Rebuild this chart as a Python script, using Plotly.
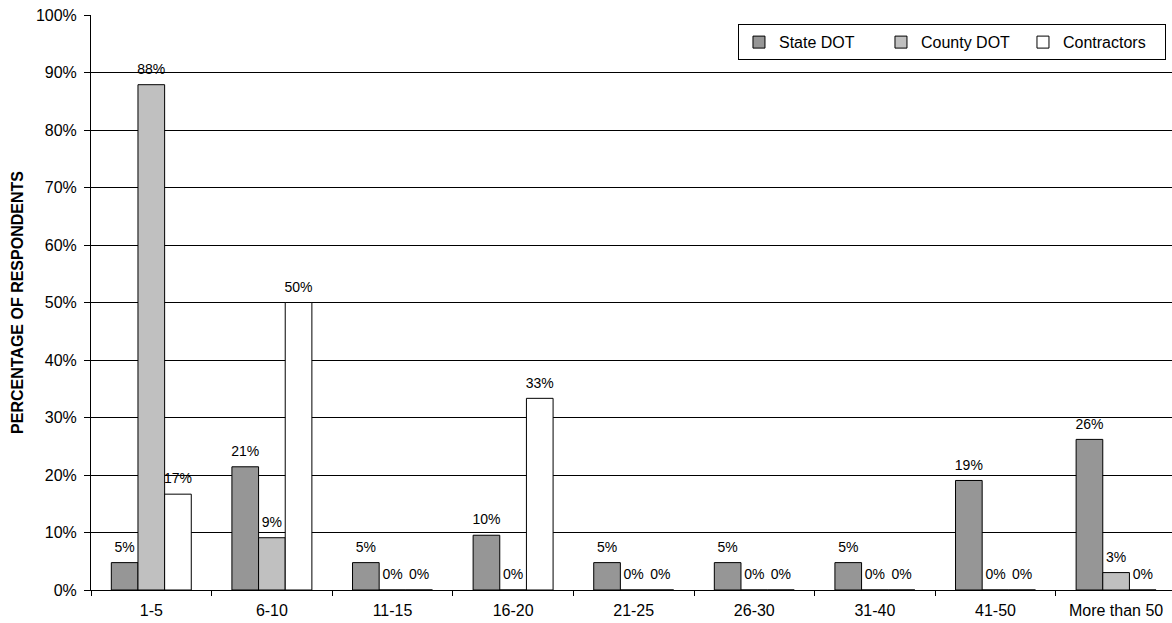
import plotly.graph_objects as go

# Share of respondents by years of experience, per respondent group
categories = ["1-5", "6-10", "11-15", "16-20", "21-25", "26-30", "31-40", "41-50", "More than 50"]
state_dot = [2/42, 9/42, 2/42, 4/42, 2/42, 2/42, 2/42, 8/42, 11/42]
county_dot = [29/33, 3/33, 0, 0, 0, 0, 0, 0, 1/33]
contractors = [1/6, 3/6, 0, 2/6, 0, 0, 0, 0, 0]

series = [
    ("State DOT", state_dot, "#969696"),
    ("County DOT", county_dot, "#C0C0C0"),
    ("Contractors", contractors, "#FFFFFF"),
]

font = "Arial, Liberation Sans, sans-serif"
GAP = 0.337

fig = go.Figure()
for name, vals, color in series:
    fig.add_trace(go.Bar(
        name=name,
        x=categories,
        y=vals,
        marker=dict(color=color, line=dict(color="#000000", width=1)),
        hoverinfo="x+y+name",
    ))

# value labels, grouped the same way as the bars
for name, vals, color in series:
    fig.add_trace(go.Scatter(
        x=categories,
        y=vals,
        mode="markers+text",
        marker=dict(size=10, opacity=0),
        text=[f"{v:.0%}" for v in vals],
        textposition="top center",
        textfont=dict(family=font, size=14, color="#000000"),
        showlegend=False,
        hoverinfo="skip",
        cliponaxis=False,
    ))

fig.update_layout(
    width=1172,
    height=623,
    margin=dict(l=91, r=0, t=15, b=33),
    paper_bgcolor="#FFFFFF",
    plot_bgcolor="#FFFFFF",
    barmode="group",
    bargap=GAP,
    bargroupgap=0,
    scattermode="group",
    scattergap=GAP,
    font=dict(family=font, size=16, color="#000000"),
    legend=dict(
        orientation="h",
        x=0.5985, y=0.984, xanchor="left", yanchor="top",
        bgcolor="#FFFFFF", bordercolor="#000000", borderwidth=1,
        font=dict(family=font, size=16, color="#000000"),
        itemwidth=30,
        entrywidth=97,
        traceorder="normal",
    ),
    xaxis=dict(
        range=[-0.5, -0.5 + 1081 / 120.6],
        tickson="boundaries",
        ticks="outside",
        ticklen=5,
        tickcolor="#000000",
        ticklabelstandoff=6,
        showline=True,
        linecolor="#000000",
        linewidth=1,
        showgrid=False,
        tickfont=dict(family=font, size=16, color="#000000"),
    ),
    yaxis=dict(
        range=[0, 1],
        dtick=0.1,
        tickformat=".0%",
        ticks="outside",
        ticklen=6,
        tickcolor="#000000",
        ticklabelstandoff=4,
        showline=True,
        linecolor="#000000",
        linewidth=1,
        showgrid=True,
        gridcolor="#000000",
        gridwidth=1,
        zeroline=False,
        tickfont=dict(family=font, size=16, color="#000000"),
        title=dict(text="<b>PERCENTAGE OF RESPONDENTS</b>",
                   font=dict(family=font, size=16, color="#000000"), standoff=8),
    ),
)

fig.write_html("out.html")
